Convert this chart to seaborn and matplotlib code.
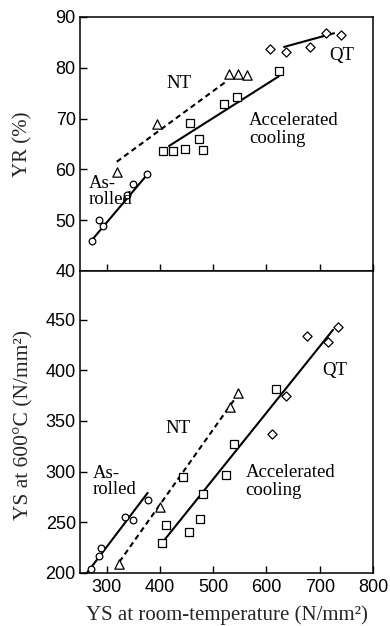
import matplotlib
matplotlib.use("Agg")
import matplotlib.pyplot as plt
import pandas as pd
import seaborn as sns

# ---- Yield ratio YR (%) vs. yield strength at room temperature ----
yr_asrolled_x = [272, 285.5, 292.5, 337.6, 349, 376.5]
yr_asrolled_y = [45.9, 50.1, 48.8, 55.0, 57.2, 59.0]
yr_nt_x = [318.8, 394, 530, 546.8, 563]
yr_nt_y = [59.5, 69.0, 78.7, 78.7, 78.5]
yr_acc_x = [406.5, 424, 446.6, 457, 474, 481, 520.5, 545, 623]
yr_acc_y = [63.6, 63.6, 64.1, 69.1, 66.0, 63.9, 72.9, 74.2, 79.3]
yr_qt_x = [605.8, 637, 681.6, 711.7, 740]
yr_qt_y = [83.6, 83.1, 84.0, 86.9, 86.4]

# trend lines (end points)
yr_asrolled_fit_x = [270, 378]
yr_asrolled_fit_y = [45.8, 59.2]
yr_nt_fit_x = [319, 527]
yr_nt_fit_y = [61.5, 77.5]
yr_acc_fit_x = [417, 623]
yr_acc_fit_y = [64.6, 78.3]
yr_qt_fit_x = [633, 727]
yr_qt_fit_y = [84.1, 86.8]

# ---- Yield strength at 600 C vs. yield strength at room temperature ----
ys_asrolled_x = [271, 285.5, 288.7, 333.8, 349.5, 377.7]
ys_asrolled_y = [204, 216.8, 225, 255.3, 252.7, 272]
ys_nt_x = [322.6, 399.6, 532.5, 546.8]
ys_nt_y = [208.6, 265, 363.4, 377.6]
ys_acc_x = [404, 412, 443.5, 455.4, 475.4, 481, 524, 539.3, 618.2]
ys_acc_y = [229.3, 247.4, 294.6, 240.8, 253, 278, 296.5, 327.2, 381.5]
ys_qt_x = [609.6, 636.5, 677, 714.8, 734]
ys_qt_y = [337, 375, 433.5, 428.3, 442.4]

ys_asrolled_fit_x = [263, 377]
ys_asrolled_fit_y = [200, 279]
ys_nt_fit_x = [324, 545]
ys_nt_fit_y = [211, 375]
ys_accqt_fit_x = [410, 725]
ys_accqt_fit_y = [233.6, 440]

x_ticks = [300, 400, 500, 600, 700, 800]
yr_ticks = [40, 50, 60, 70, 80, 90]
ys_ticks = [200, 250, 300, 350, 400, 450]

sns.set_style("ticks")
plt.rcParams["font.family"] = ["Liberation Serif", "DejaVu Serif"]

SERIF = ["Liberation Serif", "DejaVu Serif"]
SANS = ["Liberation Sans", "DejaVu Sans"]

fig = plt.figure(figsize=(3.9, 6.26), dpi=100)
ax1 = fig.add_axes([0.2051, 0.5671, 0.7513, 0.4058])
ax2 = fig.add_axes([0.2051, 0.0847, 0.7513, 0.4824])

mk = dict(facecolor="white", edgecolor="black", linewidth=0.9, zorder=3, legend=False)
ln = dict(color="black", linewidth=1.5, zorder=2, legend=False)


def scatter(ax, x, y, marker, s):
    df = pd.DataFrame({"x": x, "y": y})
    sns.scatterplot(data=df, x="x", y="y", marker=marker, s=s, ax=ax, **mk)


def fit(ax, x, y, dashed=False):
    df = pd.DataFrame({"x": x, "y": y})
    line = sns.lineplot(data=df, x="x", y="y", ax=ax, **ln).lines[-1]
    if dashed:
        line.set_dashes((2.6, 1.8))


# upper panel
fit(ax1, yr_asrolled_fit_x, yr_asrolled_fit_y)
fit(ax1, yr_nt_fit_x, yr_nt_fit_y, dashed=True)
fit(ax1, yr_acc_fit_x, yr_acc_fit_y)
fit(ax1, yr_qt_fit_x, yr_qt_fit_y)
scatter(ax1, yr_asrolled_x, yr_asrolled_y, "o", 23)
scatter(ax1, yr_nt_x, yr_nt_y, "^", 45)
scatter(ax1, yr_acc_x, yr_acc_y, "s", 37)
scatter(ax1, yr_qt_x, yr_qt_y, "D", 22)

# lower panel
fit(ax2, ys_asrolled_fit_x, ys_asrolled_fit_y)
fit(ax2, ys_nt_fit_x, ys_nt_fit_y, dashed=True)
fit(ax2, ys_accqt_fit_x, ys_accqt_fit_y)
scatter(ax2, ys_asrolled_x, ys_asrolled_y, "o", 23)
scatter(ax2, ys_nt_x, ys_nt_y, "^", 45)
scatter(ax2, ys_acc_x, ys_acc_y, "s", 37)
scatter(ax2, ys_qt_x, ys_qt_y, "D", 22)

for ax in (ax1, ax2):
    ax.set_xlim(250, 800)
    ax.set_xticks(x_ticks)
    for sp in ax.spines.values():
        sp.set_visible(True)
        sp.set_linewidth(1.1)
        sp.set_color("black")
    ax.tick_params(direction="in", length=5, width=1.0, colors="black",
                   labelsize=13, pad=3, top=False, right=False)

ax1.set_ylim(40, 90)
ax1.set_yticks(yr_ticks)
ax1.tick_params(axis="x", labelbottom=False)
ax1.set_xlabel("")
ax1.set_ylabel("YR (%)", fontsize=15, family=SERIF)
ax1.yaxis.set_label_coords(-0.162, 0.5)

ax2.set_ylim(200, 498)
ax2.set_yticks(ys_ticks)
ax2.tick_params(axis="x", pad=4)
ax2.set_ylabel("YS at 600°C (N/mm²)", fontsize=15.5, family=SERIF)
ax2.yaxis.set_label_coords(-0.16, 0.49)
ax2.set_xlabel("YS at room-temperature (N/mm²)", fontsize=15, family=SERIF)
ax2.xaxis.set_label_coords(0.5, -0.106)

for lab in (ax1.get_yticklabels() + ax2.get_yticklabels()
            + ax2.get_xticklabels()):
    lab.set_family(SANS)

txt = dict(fontsize=13.5, family=SERIF, color="black")
ax1.text(435, 77.0, "NT", ha="center", va="center", **txt)
ax1.text(741, 82.4, "QT", ha="center", va="center", **txt)
ax1.text(567, 67.9, "Accelerated\ncooling", ha="left", va="center", linespacing=1.05, **txt)
ax1.text(267, 55.6, "As-\nrolled", ha="left", va="center", linespacing=0.95, **txt)

ax2.text(433.5, 343, "NT", ha="center", va="center", **txt)
ax2.text(727.6, 399.6, "QT", ha="center", va="center", **txt)
ax2.text(561, 290, "Accelerated\ncooling", ha="left", va="center", linespacing=1.05, **txt)
ax2.text(273.5, 290, "As-\nrolled", ha="left", va="center", linespacing=0.95, **txt)

fig.savefig("out.png", dpi=100)
